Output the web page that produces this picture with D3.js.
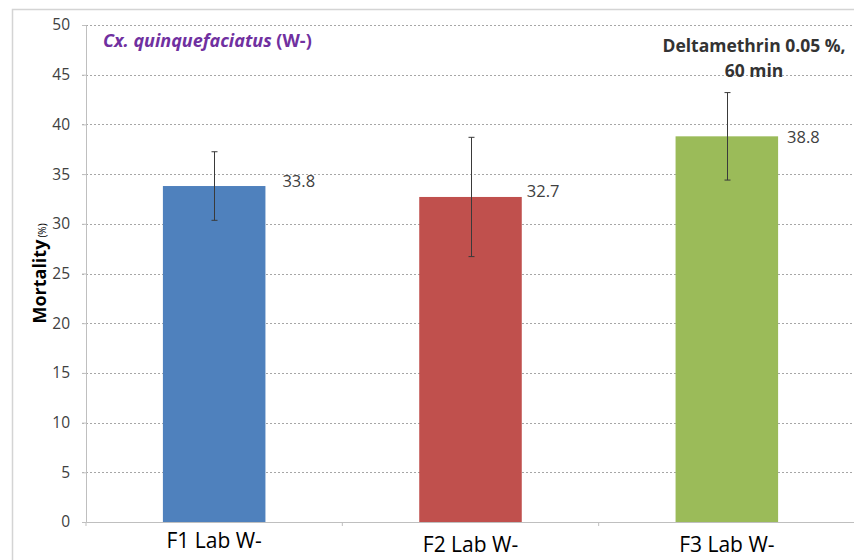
<!DOCTYPE html>
<html><head><meta charset="utf-8">
<script src="https://cdn.jsdelivr.net/npm/d3@7/dist/d3.min.js"></script>
<style>body{margin:0;background:#fff;} text{font-family:"Open Sans","Noto Sans",sans-serif;}</style>
</head><body><svg id="c" width="854" height="560"></svg>
<script>
const categories = ["F1 Lab W-", "F2 Lab W-", "F3 Lab W-"];
const values = [33.8, 32.7, 38.8];
const errors = [3.45, 6.0, 4.4];
const colors = ["#4F81BD", "#C0504D", "#9BBB59"];
const yTicks = [0, 5, 10, 15, 20, 25, 30, 35, 40, 45, 50];

const svg = d3.select("#c");
const m = {l: 86, r: 855, t: 25, b: 522};
const x = d3.scaleBand().domain(categories).range([m.l, m.r]).paddingInner(0.6).paddingOuter(0.3);
const xo = d3.scaleBand().domain(categories).range([m.l, m.r]);
const y = d3.scaleLinear().domain([0, 50]).range([m.b, m.t]);

// outer border
svg.append("rect").attr("x", 12.5).attr("y", 9.5).attr("width", 860).attr("height", 600)
  .attr("fill", "none").attr("stroke", "#d4d4d4").attr("stroke-width", 1.5);

// gridlines
svg.append("g").selectAll("line").data(yTicks.filter(d => d > 0)).join("line")
  .attr("x1", m.l - 4).attr("x2", m.r)
  .attr("y1", d => Math.round(y(d)) + 0.5).attr("y2", d => Math.round(y(d)) + 0.5)
  .attr("stroke", "#a6a6a6").attr("stroke-dasharray", "2,2").attr("stroke-width", 1);

// y axis
const ya = svg.append("g").attr("transform", `translate(${m.l},0)`)
  .call(d3.axisLeft(y).tickValues(yTicks).tickSize(4).tickPadding(12));
ya.select(".domain").attr("stroke", "#bfbfbf");
ya.selectAll(".tick line").attr("stroke", "#bfbfbf");
ya.selectAll(".tick text").attr("font-size", 15.5).attr("fill", "#404040")
  .style("font-family", '"Open Sans","Noto Sans",sans-serif');

// x axis
const xa = svg.append("g").attr("transform", `translate(0,${m.b})`)
  .call(d3.axisBottom(xo).tickSize(0).tickPadding(12));
xa.select(".domain").attr("stroke", "#bfbfbf");
xa.selectAll(".tick text").attr("font-size", 21).attr("fill", "#000")
  .style("font-family", '"Open Sans","Noto Sans",sans-serif')
  .attr("dy", (d, i) => i === 0 ? "0.68em" : "0.88em");
// category boundary ticks
svg.append("g").selectAll("line").data(categories).join("line")
  .attr("x1", d => xo(d)).attr("x2", d => xo(d))
  .attr("y1", m.b).attr("y2", m.b + 4).attr("stroke", "#bfbfbf");

// bars
svg.append("g").selectAll("rect").data(values).join("rect")
  .attr("x", (d, i) => x(categories[i])).attr("width", x.bandwidth())
  .attr("y", d => y(d)).attr("height", d => y(0) - y(d))
  .attr("fill", (d, i) => colors[i]);

// error bars
const eb = svg.append("g").attr("stroke", "#3a3a3a").attr("stroke-width", 1);
values.forEach((v, i) => {
  const cx = Math.round(x(categories[i]) + x.bandwidth() / 2) + 0.5;
  eb.append("line").attr("x1", cx).attr("x2", cx).attr("y1", y(v + errors[i])).attr("y2", y(v - errors[i]));
  eb.append("line").attr("x1", cx - 3).attr("x2", cx + 3).attr("y1", y(v + errors[i])).attr("y2", y(v + errors[i]));
  eb.append("line").attr("x1", cx - 3).attr("x2", cx + 3).attr("y1", y(v - errors[i])).attr("y2", y(v - errors[i]));
});

// value labels
const lblDx = [17, 5, 9];
const lblDy = [1, 0, 7];
svg.append("g").selectAll("text").data(values).join("text")
  .attr("x", (d, i) => x(categories[i]) + x.bandwidth() + lblDx[i])
  .attr("y", (d, i) => y(d) + lblDy[i])
  .attr("font-size", 16.5).attr("fill", "#404040")
  .text(d => d.toFixed(1));

// y axis title
const yt = svg.append("text").attr("transform", `translate(46,${(m.t + m.b) / 2}) rotate(-90)`)
  .attr("text-anchor", "middle").attr("fill", "#000");
yt.append("tspan").attr("font-size", 18).attr("font-weight", "bold").text("Mortality");
yt.append("tspan").attr("font-size", 10).attr("dx", 2).text("(%)");

// species title
const st = svg.append("text").attr("x", 103).attr("y", 47).attr("fill", "#7030A0")
  .attr("font-size", 18).attr("font-weight", "bold");
st.append("tspan").attr("font-style", "italic").text("Cx. quinquefaciatus");
st.append("tspan").text(" (W-)");

// treatment title
const tt = svg.append("text").attr("text-anchor", "middle").attr("fill", "#333")
  .attr("font-size", 17.5).attr("font-weight", "bold");
tt.append("tspan").attr("x", 754).attr("y", 52).text("Deltamethrin 0.05 %,");
tt.append("tspan").attr("x", 754).attr("y", 77).text("60 min");
</script></body></html>
